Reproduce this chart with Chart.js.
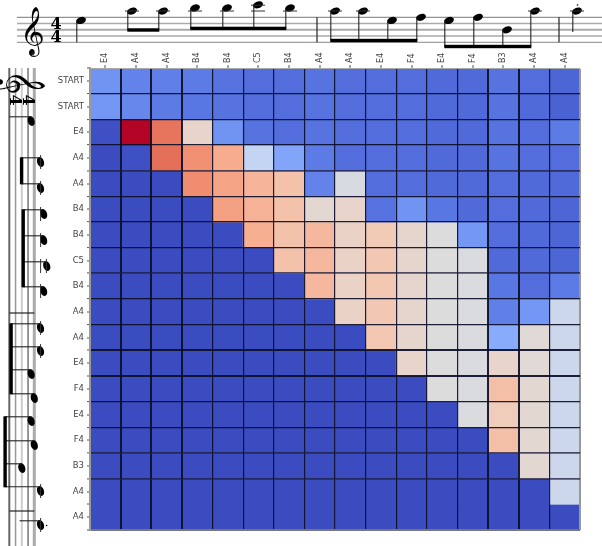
<!DOCTYPE html>
<html><head><meta charset="utf-8">
<style>html,body{margin:0;padding:0;background:#fff}canvas{display:block;filter:blur(.3px)}</style>
<script src="https://cdn.jsdelivr.net/npm/chart.js@4"></script>
</head><body><canvas id="c" width="602" height="546"></canvas>
<script>
const colLabels=["E4","A4","A4","B4","B4","C5","B4","A4","A4","E4","F4","E4","F4","B3","A4","A4"];
const rowLabels=["START","START","E4","A4","A4","B4","B4","C5","B4","A4","A4","E4","F4","E4","F4","B3","A4","A4"];
const row00=[.17,.13,.12,.11,.09,.08,.08,.09,.08,.08,.08,.07,.07,.09,.08,.06];
const row01=[.18,.14,.11,.10,.09,.08,.08,.09,.08,.08,.08,.07,.07,.09,.07,.05];
const row02=[.01,1,.83,.55,.17,.09,.08,.09,.08,.08,.08,.07,.07,.09,.08,.11];
const row03=[0,.01,.84,.77,.70,.41,.22,.11,.08,.08,.08,.07,.07,.09,.08,.08];
const row04=[0,0,0,.78,.72,.67,.63,.13,.48,.08,.08,.07,.07,.08,.07,.07];
const row05=[0,0,0,0,.73,.68,.63,.53,.55,.09,.17,.10,.07,.08,.07,.06];
const row06=[0,0,0,0,0,.69,.63,.66,.56,.60,.54,.50,.18,.08,.07,.06];
const row07=[0,0,0,0,0,0,.63,.66,.56,.61,.54,.50,.49,.07,.07,.06];
const row08=[0,0,0,0,0,0,0,.66,.56,.61,.54,.50,.49,.10,.08,.11];
const row09=[0,0,0,0,0,0,0,0,.56,.61,.54,.50,.49,.12,.18,.44];
const row10=[0,0,0,0,0,0,0,0,0,.61,.54,.50,.49,.24,.52,.44];
const row11=[0,0,0,0,0,0,0,0,0,0,.55,.50,.49,.55,.52,.44];
const row12=[0,0,0,0,0,0,0,0,0,0,0,.50,.49,.64,.53,.44];
const row13=[0,0,0,0,0,0,0,0,0,0,0,0,.49,.59,.53,.44];
const row14=[0,0,0,0,0,0,0,0,0,0,0,0,0,.64,.53,.44];
const row15=[0,0,0,0,0,0,0,0,0,0,0,0,0,0,.53,.44];
const row16=[0,0,0,0,0,0,0,0,0,0,0,0,0,0,0,.44];
const row17=[0,0,0,0,0,0,0,0,0,0,0,0,0,0,0,0];
const heat=[row00,row01,row02,row03,row04,row05,row06,row07,row08,row09,row10,row11,row12,row13,row14,row15,row16,row17];

const scoreNotes=["E4","A4","A4","B4","B4","C5","B4","A4","A4","E4","F4","E4","F4","B3","A4","A4"];
const topNoteAt=[81,132,163,195,227,258,290,335,363,392,421,449,478,507,535,577];
const sideNoteAt=[121,162,188,214,240,266,291,328,351,374,398,421,445,468,491,525];
const beamGroups=[[1,2],[3,4,5,6],[7,8,9,10],[11,12,13,14]];
const beamLevels=[30,28.4,40.5,46.5];
const topBarlines=[317,559];
const sideBarlines=[313,511];

const cool=[[59,76,192],[89,119,227],[123,159,249],[158,190,255],[192,212,245],[221,220,220],[242,203,183],[247,172,142],[238,132,104],[214,82,68],[180,4,38]];
function coolwarm(v){const t=Math.min(.9999,Math.max(0,v))*10,i=Math.floor(t),f=t-i,a=cool[i],b=cool[i+1];
  return `rgb(${a.map((c,k)=>Math.round(c+(b[k]-c)*f)).join(",")})`;}

const staffSteps={B3:4,E4:7,F4:8,A4:10,B4:11,C5:12};
const levelOf=p=>42.3-staffSteps[p]*3.12;
function drawScore(ctx,noteAt,bars,start,end,clefU,timeU,lineStyles){
  ctx.save();
  lineStyles.forEach(([col,w],k)=>{const s=42.3-6.25*k;ctx.strokeStyle=col;ctx.lineWidth=w;
    ctx.beginPath();ctx.moveTo(start,s);ctx.lineTo(end,s);ctx.stroke();});
  ctx.strokeStyle="#222";ctx.lineWidth=1.2;
  bars.forEach(u=>{ctx.beginPath();ctx.moveTo(u,17.3);ctx.lineTo(u,42.3);ctx.stroke();});
  scoreNotes.forEach((p,i)=>{
    const u=noteAt[i],s=levelOf(p);
    ctx.fillStyle="#000";ctx.beginPath();ctx.ellipse(u,s,5.1,3.4,-0.35,0,Math.PI*2);ctx.fill();
    ctx.strokeStyle="#333";ctx.lineWidth=1;
    if(staffSteps[p]>=10){ctx.beginPath();ctx.moveTo(u-7,11);ctx.lineTo(u+7,11);ctx.stroke();}
    if(staffSteps[p]>=12){ctx.beginPath();ctx.moveTo(u-7,5.2);ctx.lineTo(u+7,5.2);ctx.stroke();}
  });
  ctx.strokeStyle="#222";ctx.lineWidth=1.1;
  const stem=(i,to)=>{const u=noteAt[i]-4.2;ctx.beginPath();ctx.moveTo(u,levelOf(scoreNotes[i]));ctx.lineTo(u,to);ctx.stroke();};
  stem(0,42.3);stem(15,32);
  beamGroups.forEach((g,k)=>{g.forEach(i=>stem(i,beamLevels[k]));
    ctx.fillStyle="#000";const a=noteAt[g[0]]-4.7,b=noteAt[g[g.length-1]]-3.7;
    ctx.fillRect(a,beamLevels[k]-1.7,b-a,3.4);});
  ctx.fillStyle="#000";ctx.beginPath();ctx.arc(noteAt[15]+0.5,5,0.8,0,Math.PI*2);ctx.fill();
  ctx.textAlign="center";ctx.textBaseline="alphabetic";
  ctx.font='42px "DejaVu Sans"';ctx.fillText("\u{1D11E}",clefU,45);
  ctx.font='bold 16px "DejaVu Serif"';ctx.fillText("4",timeU,29);ctx.fillText("4",timeU,42);
  ctx.font='6px "DejaVu Sans"';ctx.fillStyle="#333";ctx.fillText("8",clefU+1,57);
  ctx.restore();
}
const scorePlugin={id:"score",afterDraw(chart){
  const ctx=chart.ctx;
  drawScore(ctx,topNoteAt,topBarlines,17,602,32,56,[["#888",1],["#aaa",1.6],["#aaa",2],["#aaa",1.4],["#777",1]]);
  ctx.save();ctx.translate(51.6,0);ctx.rotate(Math.PI/2);
  drawScore(ctx,sideNoteAt,sideBarlines,68,546,82,100,[["#666",2],["#999",1.5],["#ccc",2],["#777",1.5],["#aaa",3]]);
  ctx.restore();
}};

const tickInk="#555",lineInk="rgba(12,14,40,0.92)",frameInk="#999",clear="rgba(0,0,0,0)";
const heavyCols=[1,2,3,13,14],heavyRows=[11,12],midRows=[4,8,15,16];
const tv=c=>c.tick?c.tick.value:NaN;
new Chart(document.getElementById("c"),{
  type:"bar",
  data:{datasets:heat.map((r,i)=>({label:rowLabels[i],
    data:r.map((v,c)=>({x:c,y:1})),
    backgroundColor:r.map(coolwarm),borderWidth:0,barThickness:"flex",barPercentage:1,categoryPercentage:1}))},
  plugins:[scorePlugin],
  options:{responsive:false,animation:false,
    layout:{padding:{left:0,top:0,right:22,bottom:16}},
    plugins:{legend:{display:false},tooltip:{enabled:false}},
    scales:{
      x:{type:"linear",position:"top",stacked:true,offset:false,min:-0.5,max:15.5,
        afterFit(s){s.height=68;},
        border:{color:"#aaa",width:1,z:1},
        grid:{z:1,offset:false,tickLength:3,tickWidth:1,
          tickColor:c=>Number.isInteger(tv(c))?tickInk:clear,
          lineWidth:c=>{const v=tv(c);if(Number.isInteger(v))return 0;const k=v+.5;
            return k===16?2:(heavyCols.includes(k)?2:1.2);},
          color:c=>tv(c)===15.5?frameInk:lineInk},
        ticks:{stepSize:.5,autoSkip:false,minRotation:90,maxRotation:90,padding:2,labelOffset:9.5,color:"#444",
          font:{family:"DejaVu Sans",size:8},
          callback:v=>Number.isInteger(v)?colLabels[v]:""}},
      y:{type:"linear",reverse:true,stacked:true,offset:false,min:0,max:18,
        afterFit(s){s.width=90;},
        border:{color:frameInk,width:2,z:1},
        grid:{z:1,offset:false,tickLength:3,tickWidth:1,tickColor:tickInk,
          lineWidth:c=>{const v=tv(c);if(!Number.isInteger(v)||v===0||v===17)return 0;
            return v===18?2:(heavyRows.includes(v)?2:(midRows.includes(v)?1.8:1.2));},
          color:c=>{const v=tv(c);return v===18?"#777":(midRows.includes(v)?"rgba(30,30,60,.75)":lineInk);}},
        ticks:{stepSize:.5,autoSkip:false,padding:3,color:"#444",
          font:{family:"DejaVu Sans",size:8.5},
          callback:v=>Number.isInteger(v)?"":rowLabels[v-.5]}}
    }}
});
</script></body></html>
